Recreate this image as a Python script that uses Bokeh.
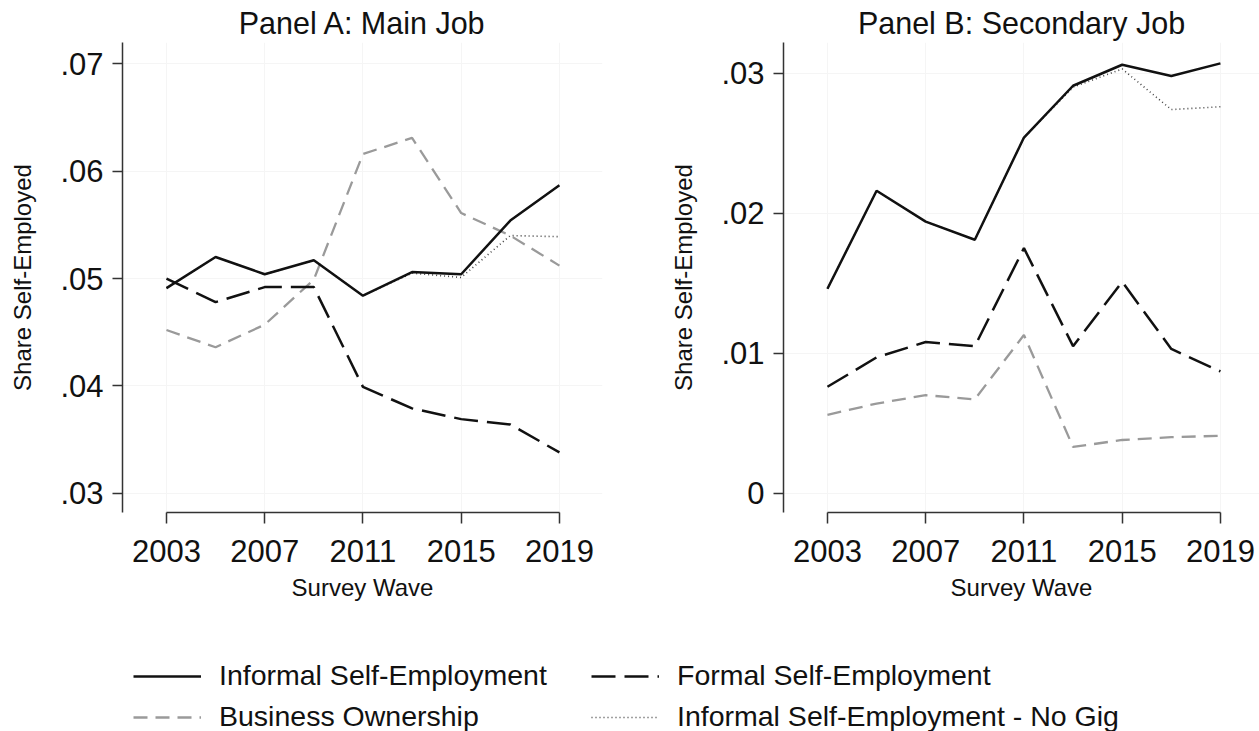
from bokeh.plotting import figure
from bokeh.layouts import column, row
from bokeh.models import Range1d, FixedTicker, Legend, LegendItem
from bokeh.embed import file_html
from bokeh.resources import INLINE

# Survey waves
years = [2003, 2005, 2007, 2009, 2011, 2013, 2015, 2017, 2019]
x_ticks = [2003, 2007, 2011, 2015, 2019]

# Panel A: main job
informal_a = [0.0491, 0.0520, 0.0504, 0.0517, 0.0484, 0.0506, 0.0504, 0.0554, 0.0587]
formal_a = [0.0500, 0.0478, 0.0492, 0.0492, 0.0399, 0.0379, 0.0369, 0.0364, 0.0338]
business_a = [0.0452, 0.0436, 0.0457, 0.0499, 0.0616, 0.0631, 0.0561, 0.0540, 0.0512]
nogig_a = [0.0491, 0.0520, 0.0504, 0.0517, 0.0484, 0.0505, 0.0501, 0.0540, 0.0539]
y_ticks_a = [0.03, 0.04, 0.05, 0.06, 0.07]
y_labels_a = [".03", ".04", ".05", ".06", ".07"]

# Panel B: secondary job
informal_b = [0.0146, 0.0216, 0.0194, 0.0181, 0.0254, 0.0291, 0.0306, 0.0298, 0.0307]
formal_b = [0.0076, 0.0097, 0.0108, 0.0105, 0.0175, 0.0105, 0.0151, 0.0103, 0.0087]
business_b = [0.0056, 0.0064, 0.0070, 0.0067, 0.0113, 0.0033, 0.0038, 0.0040, 0.0041]
nogig_b = [0.0146, 0.0216, 0.0194, 0.0181, 0.0254, 0.0290, 0.0303, 0.0274, 0.0276]
y_ticks_b = [0.0, 0.01, 0.02, 0.03]
y_labels_b = ["0", ".01", ".02", ".03"]

series_names = ["Informal Self-Employment", "Formal Self-Employment",
                "Business Ownership", "Informal Self-Employment - No Gig"]

FONT = "Liberation Sans"
INK = "#111111"
AXIS = "#333333"
PX_PER_YEAR = 24.56

STYLES = {
    "Informal Self-Employment": dict(line_color="#111111", line_width=2.5, line_dash="solid"),
    "Formal Self-Employment": dict(line_color="#111111", line_width=2.5, line_dash="24 9"),
    "Business Ownership": dict(line_color="#9a9a9a", line_width=2.3, line_dash="14 8"),
    "Informal Self-Employment - No Gig": dict(line_color="#444444", line_width=1.6, line_dash="1 3"),
}


def make_panel(title, series, y_ticks, y_labels, y_range, width, border_left, border_right):
    x_start = 2001.21
    x_end = x_start + (width - border_left - border_right) / PX_PER_YEAR
    p = figure(width=width, height=621, output_backend="svg", toolbar_location=None,
               x_range=Range1d(x_start, x_end), y_range=Range1d(*y_range),
               min_border_left=border_left, min_border_right=border_right,
               min_border_top=42, min_border_bottom=109,
               background_fill_color="white", border_fill_color="white")
    p.outline_line_color = None

    p.title.text = title
    p.title.text_font = FONT
    p.title.text_font_size = "30.5px"
    p.title.text_font_style = "normal"
    p.title.text_color = INK
    p.title.align = "center"
    p.title.standoff = 5

    # faint reference grid
    p.xgrid.ticker = FixedTicker(ticks=x_ticks)
    p.ygrid.ticker = FixedTicker(ticks=y_ticks)
    p.grid.grid_line_color = "#f5f5f5"
    p.grid.grid_line_width = 1

    xa = p.xaxis[0]
    xa.ticker = FixedTicker(ticks=x_ticks)
    xa.bounds = (years[0], years[-1])
    xa.axis_label = "Survey Wave"
    ya = p.yaxis[0]
    ya.ticker = FixedTicker(ticks=y_ticks)
    ya.major_label_overrides = {t: lab for t, lab in zip(y_ticks, y_labels)}
    ya.axis_label = "Share Self-Employed"

    for ax in (xa, ya):
        ax.axis_line_color = AXIS
        ax.axis_line_width = 1.5
        ax.major_tick_line_color = AXIS
        ax.major_tick_line_width = 1.5
        ax.major_tick_in = 0
        ax.minor_tick_line_color = None
        ax.major_label_text_font = FONT
        ax.major_label_text_font_size = "31px"
        ax.major_label_text_color = INK
        ax.axis_label_text_font = FONT
        ax.axis_label_text_font_size = "24px"
        ax.axis_label_text_font_style = "normal"
        ax.axis_label_text_color = INK
    xa.major_tick_out = 11
    xa.major_label_standoff = 16
    xa.axis_label_standoff = 9
    ya.major_tick_out = 10
    ya.major_label_standoff = 9
    ya.axis_label_standoff = 21

    order = ["Business Ownership", "Formal Self-Employment",
             "Informal Self-Employment - No Gig", "Informal Self-Employment"]
    for name in order:
        p.line(years, series[name], **STYLES[name])
    return p


pa = make_panel("Panel A: Main Job",
                {"Informal Self-Employment": informal_a, "Formal Self-Employment": formal_a,
                 "Business Ownership": business_a, "Informal Self-Employment - No Gig": nogig_a},
                y_ticks_a, y_labels_a, (0.0282, 0.07199), 630, 122, 28)
pb = make_panel("Panel B: Secondary Job",
                {"Informal Self-Employment": informal_b, "Formal Self-Employment": formal_b,
                 "Business Ownership": business_b, "Informal Self-Employment - No Gig": nogig_b},
                y_ticks_b, y_labels_b, (-0.00138, 0.03219), 629, 153, 0)

# Shared legend strip beneath both panels; its lines carry no drawable points
leg = figure(width=1259, height=110, output_backend="svg", toolbar_location=None,
             x_range=Range1d(0, 1), y_range=Range1d(0, 1),
             min_border=0, background_fill_color="white", border_fill_color="white")
leg.axis.visible = False
leg.grid.visible = False
leg.outline_line_color = None
nan = float("nan")
items = []
for name in series_names:
    r = leg.line([nan, nan], [nan, nan], **STYLES[name])
    items.append(LegendItem(label=name, renderers=[r]))
legend = Legend(items=items, orientation="horizontal", ncols=2,
                location=(133, -2), padding=0, margin=0, spacing=8,
                glyph_width=68, glyph_height=20, label_standoff=18, label_width=364,
                label_text_font=FONT, label_text_font_size="28.5px", label_text_color=INK,
                border_line_color=None, background_fill_alpha=0)
leg.add_layout(legend, "center")

layout = column(row(pa, pb), leg)
open("out.html", "w").write(file_html(layout, INLINE))
